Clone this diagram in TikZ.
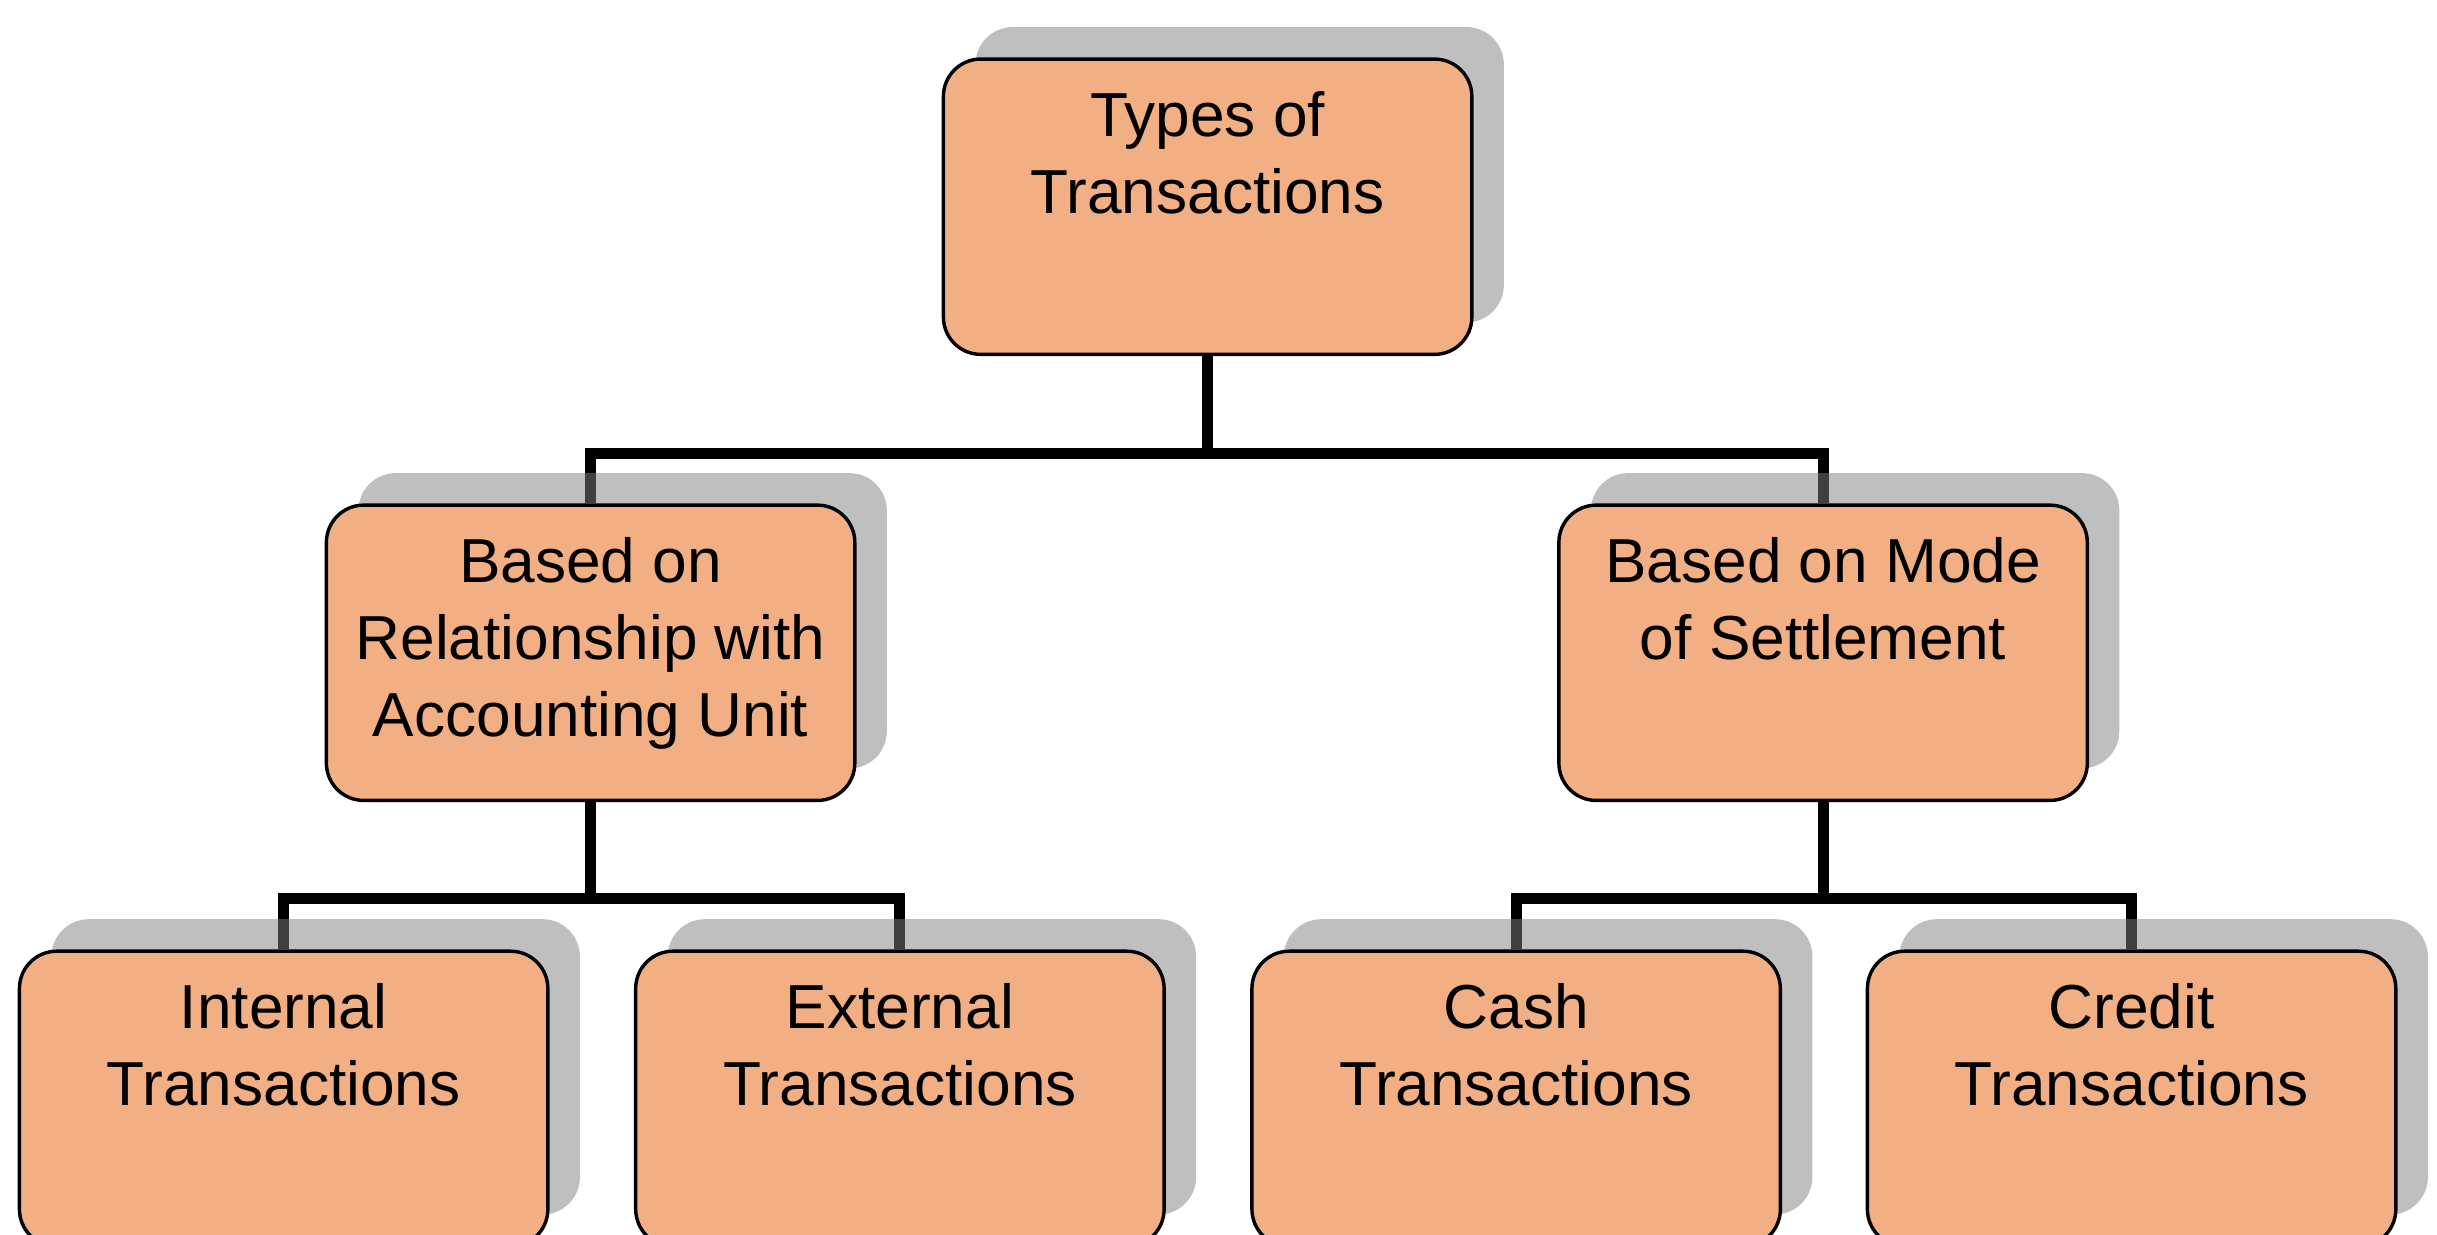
\documentclass[tikz,border=0pt]{standalone}
\usepackage{fontspec}
\setmainfont{Liberation Sans}
\usetikzlibrary{shadows,backgrounds}

\definecolor{boxfill}{RGB}{242,175,131}

% text block inside a box: lines hang from the top edge
\newcommand{\boxlines}[1]{%
  \begin{minipage}[c][95pt][t]{170pt}\centering\rule{0pt}{24.8pt}#1\end{minipage}}

\tikzset{
  kindbox/.style={
    draw=black, line width=1.1pt, fill=boxfill,
    rounded corners=12pt, inner sep=0pt,
    minimum width=170pt, minimum height=95pt,
    font=\fontsize{20pt}{24.8pt}\selectfont,
    general shadow={fill=black!50, opacity=0.5,
      shadow xshift=10.3pt, shadow yshift=10.3pt}
  },
  link/.style={draw=black, line width=3.6pt, line join=miter}
}

\begin{document}
\begin{tikzpicture}[x=0.5pt, y=-0.5pt]
  \useasboundingbox (0,0) rectangle (1568,794);

  % boxes
  \node[kindbox] (top)  at (777,133)    {\boxlines{Types of\\Transactions}};
  \node[kindbox] (midL) at (380,420)    {\boxlines{Based on\\Relationship with\\Accounting Unit}};
  \node[kindbox] (midR) at (1173,420)   {\boxlines{Based on Mode\\of Settlement}};
  \node[kindbox] (int)  at (182.5,707)  {\boxlines{Internal\\Transactions}};
  \node[kindbox] (ext)  at (579,707)    {\boxlines{External\\Transactions}};
  \node[kindbox] (cash) at (975.5,707)  {\boxlines{Cash\\Transactions}};
  \node[kindbox] (cred) at (1371.5,707) {\boxlines{Credit\\Transactions}};

  % branch points of the tree
  \coordinate (j0) at (777,292);
  \coordinate (jL) at (380,578);
  \coordinate (jR) at (1173,578);

  % connectors, kept behind the boxes and their shadows
  \begin{scope}[on background layer]
    \draw[link] (top.south) -- (j0);
    \draw[link] (midL.north) |- (j0) -| (midR.north);
    \draw[link] (midL.south) -- (jL);
    \draw[link] (int.north) |- (jL) -| (ext.north);
    \draw[link] (midR.south) -- (jR);
    \draw[link] (cash.north) |- (jR) -| (cred.north);
  \end{scope}
\end{tikzpicture}
\end{document}
